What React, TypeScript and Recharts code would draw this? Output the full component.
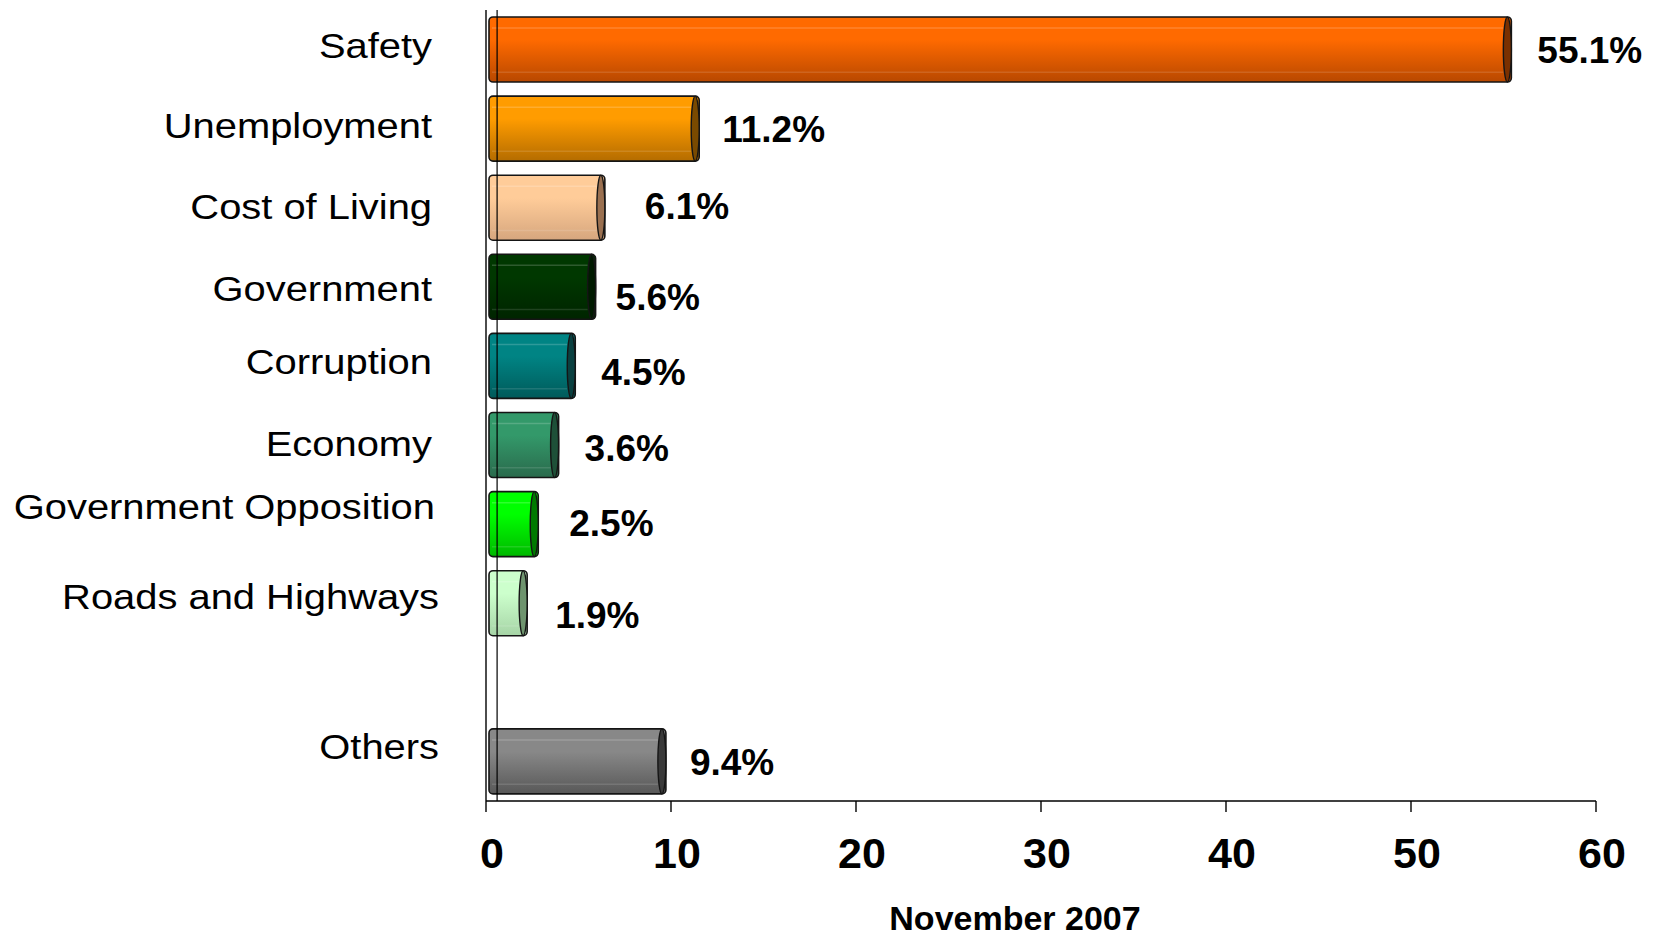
import React from 'react';
import { BarChart, Bar, XAxis, YAxis, Cell, LabelList, ReferenceLine } from 'recharts';

// ---- data ----
const categories = [
  'Safety',
  'Unemployment',
  'Cost of Living',
  'Government',
  'Corruption',
  'Economy',
  'Government Opposition',
  'Roads and Highways',
  ' ',
  'Others',
];
const values: (number | null)[] = [55.1, 11.2, 6.1, 5.6, 4.5, 3.6, 2.5, 1.9, null, 9.4];
const xTicks = [0, 10, 20, 30, 40, 50, 60];
const axisTitle = 'November 2007';

// ---- styles ----
const topColors = ['#FF6A00', '#FF9C00', '#FFCC99', '#003800', '#008484', '#33996A', '#00FF00', '#CCFFCC', '#000000', '#888888'];
const bottomColors = ['#B84800', '#B46C00', '#D6A67E', '#002400', '#005A5A', '#2A6A4C', '#00B800', '#A6D4A6', '#000000', '#585858'];
const capColors = ['#7A3000', '#7A4A00', '#9A7050', '#001A00', '#0A4040', '#1E5038', '#007A00', '#6E946E', '#000000', '#3A3A3A'];

// label nudges (styling only) [dx, dy]
const LABEL_NUDGE: Record<string, [number, number]> = {
  'Safety': [-2, -4],
  'Unemployment': [-2, -3],
  'Cost of Living': [-2, -1],
  'Government': [-2, 2],
  'Corruption': [-2, -5],
  'Economy': [-2, -2],
  'Government Opposition': [1, -18],
  'Roads and Highways': [5, -7],
  'Others': [5, -15],
};
const VALUE_NUDGE: Record<string, [number, number]> = {
  'Safety': [0, 0],
  'Unemployment': [-3, 0],
  'Cost of Living': [14, -2],
  'Government': [-6, 10],
  'Corruption': [0, 6],
  'Economy': [0, 3],
  'Government Opposition': [5, -1],
  'Roads and Highways': [2, 11],
  'Others': [-2, 0],
};

const FONT = '"Liberation Sans", Arial, Helvetica, sans-serif';
const DEPTH = 6; // 3D look offset

const data = categories.map((name, i) => ({ name, value: values[i] }));
const colorIndex = (name: string) => categories.indexOf(name);

const CategoryTick = (props: any) => {
  const { x, y, payload } = props;
  const n = LABEL_NUDGE[payload.value] || [0, 0];
  return (
    <g transform={`translate(${x + n[0]},${y + n[1]})`}>
      <text
        textAnchor="end"
        dy="0.36em"
        transform="scale(1.14,1)"
        fontSize={35}
        fontFamily={FONT}
        fill="#000"
      >
        {payload.value}
      </text>
    </g>
  );
};

const CylinderBar = (props: any) => {
  const { x, y, width, height, payload } = props;
  if (width == null || height == null || !(width > 0)) return null;
  const ci = colorIndex(payload?.name);
  const bx = x + 3;
  const bw = width + DEPTH - 3;
  const cap = Math.min(8, bw / 3);
  return (
    <g>
      <rect
        x={bx}
        y={y}
        width={bw}
        height={height}
        rx={4}
        fill={`url(#barGrad${ci})`}
        stroke="#151515"
        strokeWidth={1.6}
      />
      <line
        x1={bx + 3}
        x2={bx + bw - cap}
        y1={y + height * 0.17}
        y2={y + height * 0.17}
        stroke="#ffffff"
        strokeOpacity={0.18}
        strokeWidth={1.5}
      />
      <line
        x1={bx + 3}
        x2={bx + bw - cap}
        y1={y + height * 0.85}
        y2={y + height * 0.85}
        stroke="#ffffff"
        strokeOpacity={0.12}
        strokeWidth={1.5}
      />
      <ellipse
        cx={bx + bw - cap / 2}
        cy={y + height / 2}
        rx={cap / 2}
        ry={height / 2}
        fill={capColors[ci]}
        stroke="#151515"
        strokeWidth={1.4}
      />
    </g>
  );
};

const ValueLabel = (props: any) => {
  const { x, y, width, height, value, index } = props;
  if (value == null) return null;
  const row = data.filter((d) => d.value != null)[index];
  const name = row ? row.name : '';
  const n = VALUE_NUDGE[name] || [0, 0];
  return (
    <text
      x={x + width + 32 + n[0]}
      y={y + height / 2 + n[1]}
      dy="0.36em"
      textAnchor="start"
      fontSize={37}
      fontWeight="bold"
      fontFamily={FONT}
      fill="#000"
    >
      {`${Number(value).toFixed(1)}%`}
    </text>
  );
};

export default function App() {
  return (
    <div style={{ position: 'absolute', left: 0, top: 0, width: 1660, height: 939, background: '#fff' }}>
      <BarChart
        width={1660}
        height={939}
        data={data}
        layout="vertical"
        margin={{ top: 10, right: 64, bottom: 0, left: 0 }}
        barSize={65}
      >
        <defs>
          {categories.map((c, i) => (
            <linearGradient key={c + i} id={`barGrad${i}`} x1="0" y1="0" x2="0" y2="1">
              <stop offset="0%" stopColor={topColors[i]} />
              <stop offset="35%" stopColor={topColors[i]} />
              <stop offset="100%" stopColor={bottomColors[i]} />
            </linearGradient>
          ))}
        </defs>
        <XAxis
          type="number"
          domain={[0, 60]}
          ticks={xTicks}
          allowDataOverflow
          height={138}
          tickSize={11}
          tickMargin={25}
          axisLine={{ stroke: '#000', strokeWidth: 1.4 }}
          tickLine={{ stroke: '#000', strokeWidth: 1.4 }}
          tick={{ fontSize: 43, fontWeight: 'bold', fill: '#000', fontFamily: FONT, dx: 6 }}
          label={{
            value: axisTitle,
            position: 'insideBottom',
            offset: 9,
            dx: -26,
            fill: '#000',
            fontSize: 34,
            fontWeight: 'bold',
            fontFamily: FONT,
          }}
        />
        <YAxis
          type="category"
          dataKey="name"
          width={486}
          tickSize={0}
          tickMargin={52}
          tickLine={false}
          axisLine={{ stroke: '#000', strokeWidth: 1.4 }}
          tick={<CategoryTick />}
          interval={0}
        />
        <ReferenceLine x={0.6} stroke="#000" strokeWidth={1.2} ifOverflow="extendDomain" />
        <Bar dataKey="value" isAnimationActive={false} shape={<CylinderBar />}>
          {data.map((d, i) => (
            <Cell key={d.name + i} fill={topColors[i]} />
          ))}
          <LabelList dataKey="value" content={<ValueLabel />} />
        </Bar>
      </BarChart>
    </div>
  );
}
